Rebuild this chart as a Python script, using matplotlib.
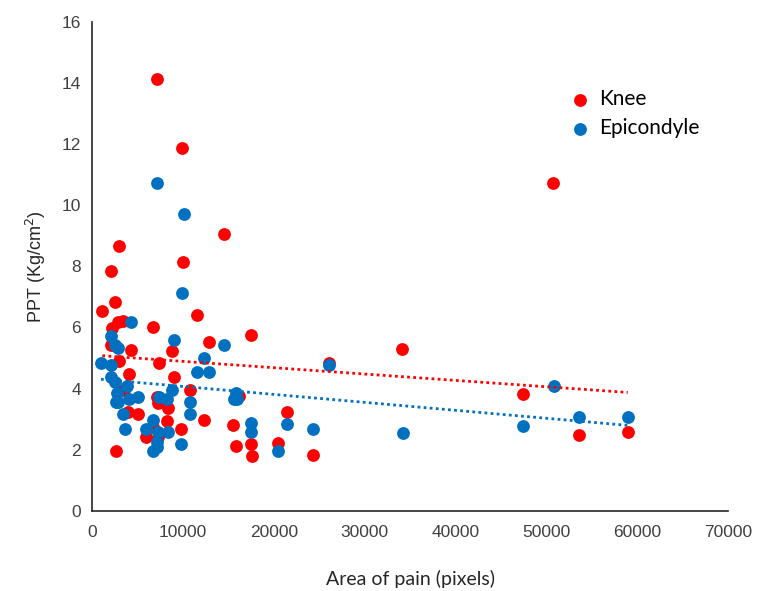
import numpy as np
import matplotlib
matplotlib.use("Agg")
import matplotlib.pyplot as plt

# Knee series (area of pain in pixels, PPT in Kg/cm2)
knee_x = [7110, 9940, 50700, 14520, 2970, 10050, 2090, 2530, 1140, 11510,
          2900, 3450, 2160, 6670, 17500, 12900, 2090, 4290, 8830, 26040,
          34100, 3000, 7400, 4100, 9050, 3560, 10780, 47450, 7110, 7300,
          2700, 8400, 3920, 5020, 21490, 8210, 12350, 15550, 6740, 9790,
          5940, 7300, 53600, 58960, 15800, 17500, 20500, 2640, 17640, 24350,
          16200]
knee_y = [14.14, 11.88, 10.74, 9.05, 8.67, 8.15, 7.86, 6.84, 6.55, 6.41,
          6.19, 6.22, 5.99, 6.03, 5.74, 5.51, 5.43, 5.26, 5.24, 4.83,
          5.29, 4.91, 4.85, 4.47, 4.39, 3.95, 3.95, 3.82, 3.73, 3.52,
          3.55, 3.35, 3.24, 3.17, 3.23, 2.95, 2.97, 2.81, 2.75, 2.68,
          2.42, 2.42, 2.47, 2.59, 2.13, 2.17, 2.23, 1.96, 1.79, 1.83,
          3.75]

# Epicondyle series
epi_x = [7110, 10090, 9940, 4290, 2090, 9050, 14560, 2530, 2900, 12350,
         990, 2090, 26040, 11510, 12900, 2090, 2530, 3810, 50800, 8830,
         2750, 15800, 15600, 16000, 7400, 8210, 5090, 4100, 2600, 2900,
         10780, 3440, 10780, 53600, 58960, 6670, 17500, 21490, 47450, 3630,
         5940, 24350, 7220, 8400, 17500, 34200, 7110, 9790, 7110, 6670,
         20500]
epi_y = [10.73, 9.71, 7.14, 6.17, 5.73, 5.58, 5.43, 5.43, 5.32, 4.99,
         4.85, 4.77, 4.76, 4.55, 4.55, 4.39, 4.22, 4.08, 4.08, 3.95,
         3.84, 3.84, 3.66, 3.66, 3.73, 3.66, 3.73, 3.65, 3.57, 3.55,
         3.57, 3.16, 3.16, 3.08, 3.08, 2.97, 2.87, 2.85, 2.77, 2.68,
         2.67, 2.67, 2.57, 2.56, 2.57, 2.55, 2.26, 2.17, 2.10, 1.96,
         1.96]

red = '#FF0000'
blue = '#0070C0'

fig = plt.figure(figsize=(7.59, 5.91), dpi=100)
ax = fig.add_axes([0.1212, 0.1359, 0.838, 0.8269])

ax.scatter(knee_x, knee_y, s=85, color=red, linewidths=0, label='Knee', zorder=2)
ax.scatter(epi_x, epi_y, s=85, color=blue, linewidths=0, label='Epicondyle', zorder=3)

# linear trend lines over each series' x range
for xs, ys, c in [(knee_x, knee_y, red), (epi_x, epi_y, blue)]:
    m, b = np.polyfit(xs, ys, 1)
    xx = np.array([min(xs), max(xs)])
    ax.plot(xx, m * xx + b, linestyle=(0, (1, 1.2)), color=c, linewidth=2, zorder=4)

ax.set_xlim(0, 70000)
ax.set_ylim(0, 16)
ax.set_xticks(range(0, 70001, 10000))
ax.set_yticks(range(0, 17, 2))
ax.tick_params(length=0, labelsize=12.5, colors='#404040')
ax.tick_params(axis='y', pad=8)
ax.tick_params(axis='x', pad=10)
for lbl in ax.get_xticklabels() + ax.get_yticklabels():
    lbl.set_family('Liberation Sans')
ax.spines['right'].set_visible(False)
ax.spines['top'].set_visible(False)
ax.spines['left'].set_color('#262626')
ax.spines['bottom'].set_color('#262626')
ax.spines['left'].set_linewidth(1.2)
ax.spines['bottom'].set_linewidth(1.2)

ax.set_xlabel('Area of pain (pixels)', family='Lato', fontsize=14, color='#262626', labelpad=22)
ax.set_ylabel('PPT (Kg/cm$^2$)', family='Liberation Sans', fontsize=13, color='#262626', labelpad=10)

leg = ax.legend(loc='upper left', bbox_to_anchor=(0.718, 0.901), frameon=False,
                prop={'family': 'Lato', 'size': 15}, handletextpad=0.3,
                labelspacing=0.45, markerscale=1.0, handlelength=1.2)

fig.savefig('out.png', dpi=100)
